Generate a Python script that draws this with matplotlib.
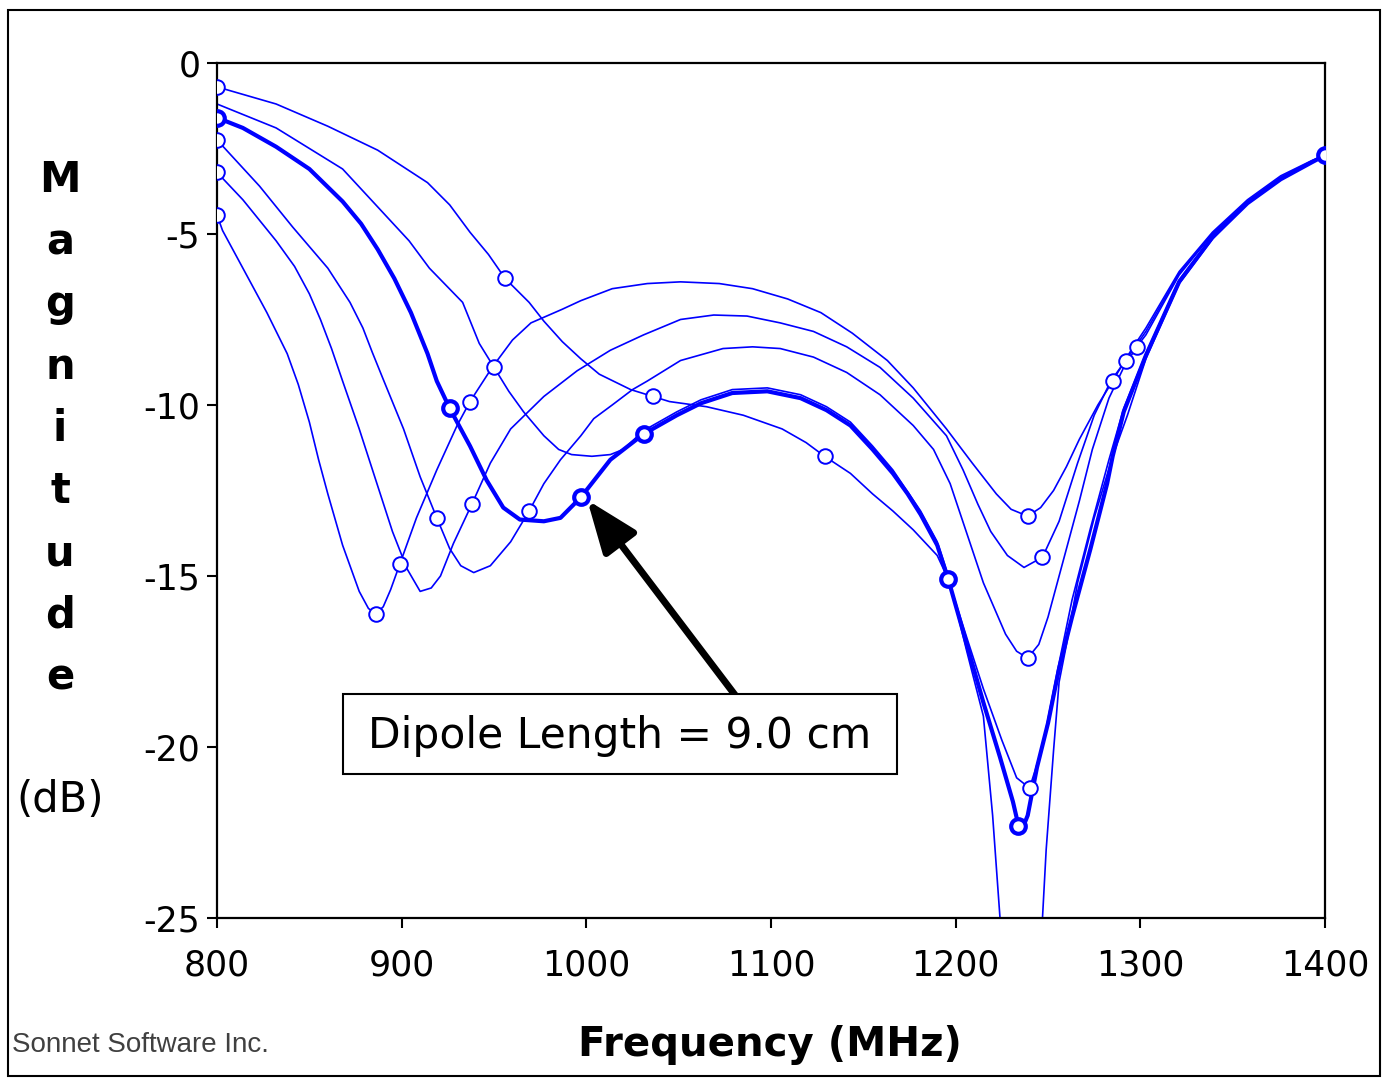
import numpy as np
import matplotlib
matplotlib.use("Agg")
import matplotlib.pyplot as plt
from matplotlib.patches import Rectangle

plt.rcParams['axes.unicode_minus'] = False
plt.rcParams['font.family'] = ['DejaVu Sans']

# curves: frequency (MHz) and magnitude (dB)
f1 = [800, 803, 814, 827, 838, 844, 850, 855, 860, 868, 877, 882, 886, 890, 894, 899, 908, 919, 930, 937, 949,
      960, 970, 987, 997, 1014, 1033, 1051, 1072, 1090, 1109, 1127, 1144, 1163, 1177, 1195, 1209, 1222, 1230, 1239,
      1246, 1253, 1260, 1267, 1277, 1285, 1295, 1303, 1321, 1339, 1358, 1376, 1393, 1400]
db1 = [-4.45, -4.9, -6.0, -7.3, -8.5, -9.4, -10.5, -11.6, -12.6, -14.1, -15.45, -15.95, -16.1, -15.9, -15.4,
       -14.65, -13.3, -11.9, -10.6, -9.9, -8.9, -8.1, -7.6, -7.2, -6.95, -6.6, -6.45, -6.4, -6.45, -6.6, -6.9,
       -7.3, -7.9, -8.7, -9.5, -10.7, -11.7, -12.6, -13.05, -13.25, -13.0, -12.5, -11.8, -11.0, -10.0, -9.3,
       -8.4, -7.75, -6.1, -4.95, -4.0, -3.3, -2.85, -2.7]
m1 = [800, 886, 899, 937, 1239, 1285, 1400]

f2 = [800, 814, 832, 842, 850, 856, 862, 868, 877, 886, 895, 903, 910, 916, 921, 928, 938, 948, 959, 977, 995,
      1013, 1031, 1051, 1069, 1087, 1105, 1123, 1141, 1159, 1177, 1195, 1204, 1212, 1219, 1228, 1237, 1247, 1256,
      1266, 1275, 1284, 1292, 1303, 1321, 1339, 1358, 1376, 1393, 1400]
db2 = [-3.2, -4.0, -5.2, -5.95, -6.75, -7.5, -8.35, -9.3, -10.7, -12.2, -13.7, -14.8, -15.45, -15.35, -15.0,
       -14.05, -12.9, -11.7, -10.7, -9.75, -9.0, -8.4, -7.95, -7.5, -7.37, -7.4, -7.6, -7.85, -8.3, -8.9, -9.8,
       -10.9, -11.9, -12.9, -13.7, -14.4, -14.75, -14.45, -13.4, -11.7, -10.3, -9.3, -8.7, -7.85, -6.15, -5.0,
       -4.05, -3.35, -2.87, -2.7]
m2 = [800, 938, 1247, 1292, 1400]

f3 = [800, 823, 841, 860, 872, 879, 884, 890, 901, 910, 919, 926, 932, 939, 948, 959, 969, 977, 986, 997, 1004,
      1014, 1025, 1033, 1051, 1074, 1090, 1105, 1123, 1141, 1159, 1177, 1188, 1197, 1206, 1215, 1227, 1233, 1239,
      1245, 1250, 1260, 1267, 1274, 1283, 1291, 1298, 1303, 1321, 1339, 1358, 1376, 1393, 1400]
db3 = [-2.25, -3.6, -4.8, -6.0, -7.0, -7.75, -8.45, -9.25, -10.7, -12.1, -13.3, -14.2, -14.7, -14.9, -14.7,
       -14.0, -13.1, -12.3, -11.6, -10.9, -10.4, -10.0, -9.55, -9.3, -8.7, -8.35, -8.3, -8.35, -8.6, -9.05, -9.7,
       -10.6, -11.3, -12.3, -13.75, -15.2, -16.7, -17.2, -17.4, -17.0, -16.2, -14.2, -12.8, -11.3, -9.8, -8.9,
       -8.3, -7.95, -6.2, -5.0, -4.05, -3.35, -2.87, -2.7]
m3 = [800, 919, 969, 1239, 1298, 1400]

# 9.0 cm dipole (bold)
f4 = [800, 814, 832, 850, 868, 878, 887, 896, 905, 914, 919, 926, 937, 946, 955, 964, 977, 986, 997, 1013, 1031,
      1049, 1062, 1079, 1098, 1116, 1130, 1143, 1155, 1166, 1174, 1181, 1190, 1196, 1206, 1215, 1224, 1231, 1234,
      1236, 1239, 1244, 1250, 1256, 1263, 1273, 1282, 1285, 1291, 1303, 1321, 1339, 1358, 1376, 1393, 1400]
db4 = [-1.6, -1.9, -2.45, -3.1, -4.05, -4.7, -5.45, -6.3, -7.3, -8.5, -9.3, -10.1, -11.2, -12.2, -13.0, -13.35,
       -13.4, -13.3, -12.7, -11.6, -10.85, -10.3, -9.95, -9.65, -9.6, -9.8, -10.15, -10.6, -11.3, -12.0, -12.6,
       -13.2, -14.1, -15.1, -17.0, -18.7, -20.3, -21.6, -22.3, -22.4, -22.0, -20.6, -19.3, -17.7, -16.2, -14.2,
       -12.3, -11.5, -10.2, -8.55, -6.4, -5.1, -4.1, -3.4, -2.9, -2.7]
m4 = [800, 926, 997, 1031, 1196, 1234, 1400]

f5 = [800, 832, 868, 904, 915, 933, 942, 950, 958, 966, 977, 985, 992, 1003, 1013, 1020, 1031, 1049, 1062, 1079,
      1098, 1116, 1130, 1143, 1155, 1166, 1181, 1190, 1196, 1206, 1215, 1220, 1224, 1230, 1236, 1242, 1247, 1249,
      1253, 1256, 1260, 1266, 1275, 1285, 1293, 1303, 1321, 1339, 1358, 1376, 1393, 1400]
db5 = [-1.2, -1.9, -3.1, -5.2, -6.0, -7.0, -8.2, -8.9, -9.6, -10.2, -10.9, -11.3, -11.45, -11.5, -11.45, -11.3,
       -10.75, -10.2, -9.85, -9.55, -9.5, -9.7, -10.05, -10.5, -11.2, -11.9, -13.1, -14.0, -15.0, -17.2, -19.1,
       -22.0, -25.0, -29.0, -31.0, -29.0, -25.0, -23.0, -20.1, -18.1, -17.0, -15.2, -13.3, -11.5, -10.3, -8.65,
       -6.45, -5.15, -4.1, -3.4, -2.9, -2.7]
m5 = [950, 1400]

f6 = [800, 832, 860, 887, 914, 926, 937, 947, 956, 969, 977, 987, 997, 1007, 1024, 1036, 1045, 1065, 1085, 1106,
      1119, 1129, 1143, 1155, 1166, 1177, 1190, 1196, 1206, 1215, 1225, 1233, 1240, 1247, 1255, 1263, 1273, 1283,
      1291, 1303, 1321, 1339, 1358, 1376, 1393, 1400]
db6 = [-0.7, -1.2, -1.85, -2.55, -3.5, -4.15, -4.95, -5.6, -6.3, -7.0, -7.55, -8.15, -8.65, -9.1, -9.55, -9.75,
       -9.9, -10.05, -10.3, -10.7, -11.1, -11.5, -12.0, -12.6, -13.1, -13.65, -14.4, -15.1, -16.8, -18.3, -19.8,
       -20.9, -21.2, -20.0, -17.8, -15.7, -13.6, -11.6, -10.1, -8.5, -6.35, -5.1, -4.1, -3.4, -2.9, -2.7]
m6 = [800, 956, 1036, 1129, 1240, 1400]

curves = [(f1, db1, m1, 1.2), (f2, db2, m2, 1.2), (f3, db3, m3, 1.2),
          (f5, db5, m5, 1.2), (f6, db6, m6, 1.2), (f4, db4, m4, 3.0)]

fig = plt.figure(figsize=(13.93, 10.78), dpi=100)
ax = fig.add_axes([0.1558, 0.1484, 0.7954, 0.7932])

blue = '#0000ff'
for f, db, marks, lw in curves:
    f = np.array(f)
    db = np.array(db)
    ax.plot(f, db, color=blue, lw=lw, zorder=3 if lw > 2 else 2)
    sel = np.isin(f, marks)
    ax.plot(f[sel], db[sel], 'o', ms=10.5, mfc='white', mec=blue,
            mew=1.4 if lw < 2 else 3.0, zorder=4)

ax.set_xlim(800, 1400)
ax.set_ylim(-25, 0)
ax.set_xticks(np.arange(800, 1401, 100))
ax.set_yticks(np.arange(-25, 1, 5))
ax.tick_params(labelsize=25, length=7, width=1.5, direction='out')
ax.tick_params(axis='x', pad=15)
ax.tick_params(axis='y', pad=5)
for s in ax.spines.values():
    s.set_linewidth(1.6)

# annotation box and arrow
fig.patches.append(Rectangle((343 / 1393, 1 - 774 / 1078), 554 / 1393, 80 / 1078, transform=fig.transFigure,
                             fc='white', ec='black', lw=1.5, zorder=5))
fig.text(620 / 1393, 1 - 736 / 1078, 'Dipole Length = 9.0 cm', fontsize=30.5, ha='center', va='center',
         zorder=6)
ax.annotate('', xy=(1000.5, -12.78), xytext=(1081.5, -18.55),
            arrowprops=dict(arrowstyle='-|>,head_length=1.6,head_width=0.62', lw=5, color='black',
                            mutation_scale=20, shrinkA=0, shrinkB=0), zorder=5)

# axis labels
fig.text(770 / 1393, 1 - 1045 / 1078, 'Frequency (MHz)', fontsize=29, fontweight='bold',
         ha='center', va='center')
for i, ch in enumerate('Magnitude'):
    fig.text(60 / 1393, 1 - (180 + i * 62.2) / 1078, ch, fontsize=30, fontweight='bold',
             ha='center', va='center')
fig.text(60 / 1393, 1 - 800 / 1078, '(dB)', fontsize=30, ha='center', va='center')

fig.text(12 / 1393, 1 - 1045 / 1078, 'Sonnet Software Inc.', fontsize=20, color='#404040',
         family='Liberation Sans', ha='left', va='center')

fig.patches.append(Rectangle((8 / 1393, 2 / 1078), 1372 / 1393, 1066 / 1078, transform=fig.transFigure,
                             fill=False, ec='black', lw=1.5))

plt.savefig('out.png', dpi=100)
